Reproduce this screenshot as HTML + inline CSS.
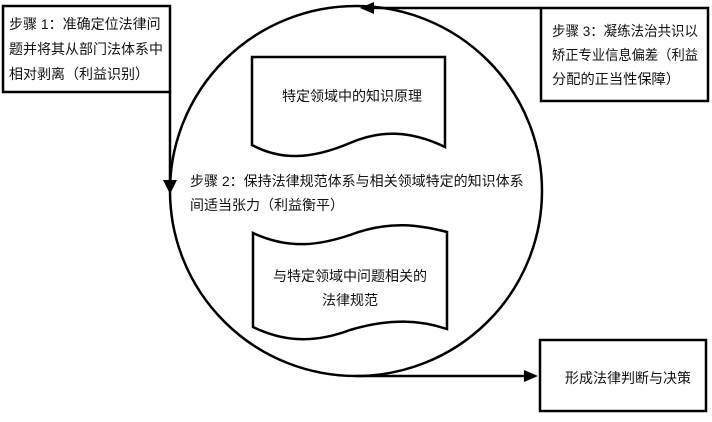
<!DOCTYPE html>
<html><head><meta charset="utf-8"><style>
body{margin:0;width:712px;height:422px;background:#fff;overflow:hidden}
svg{position:absolute;left:0;top:0}
text{font-family:"Liberation Sans","Noto Sans CJK SC",sans-serif;font-size:14px;fill:#111}
</style></head><body>
<svg width="712" height="422" viewBox="0 0 712 422">
<g fill="none" stroke="#000" stroke-width="2.5">
<ellipse cx="356" cy="191" rx="186" ry="185"/>
<rect x="3" y="6" width="167" height="86" fill="#fff"/>
<rect x="541" y="8" width="167" height="93" fill="#fff"/>
<rect x="540" y="340" width="166" height="71" fill="#fff"/>
<path d="M252 57 H445 V147 C410 130 380 130 350 143 C310 160 280 160 252 145 Z" fill="#fff"/>
<path d="M253 233 C290 250 320 245 350 235 C390 220 420 225 447 232 V329 C420 320 390 318 350 330 C310 345 280 340 253 327 Z" fill="#fff"/>
<path d="M170 92 V188"/>
<path d="M541 8 H370"/>
<path d="M356 376 H525"/>
</g>
<polygon points="163,180 177,180 170,194" fill="#000"/>
<polygon points="360,8 374,2 374,14" fill="#000"/>
<polygon points="538,376 524,370 524,382" fill="#000"/>
<text x="9" y="29">步骤 1：准确定位法律问</text>
<text x="9" y="54">题并将其从部门法体系中</text>
<text x="9" y="79">相对剥离（利益识别）</text>
<text x="552" y="36" textLength="146" lengthAdjust="spacingAndGlyphs">步骤 3：凝练法治共识以</text>
<text x="552" y="60" textLength="146" lengthAdjust="spacingAndGlyphs">矫正专业信息偏差（利益</text>
<text x="552" y="84" textLength="128" lengthAdjust="spacingAndGlyphs">分配的正当性保障）</text>
<text x="282" y="101">特定领域中的知识原理</text>
<text x="190" y="186">步骤 2：保持法律规范体系与相关领域特定的知识体系</text>
<text x="190" y="210">间适当张力（利益衡平）</text>
<text x="273" y="281">与特定领域中问题相关的</text>
<text x="322" y="305">法律规范</text>
<text x="565" y="383">形成法律判断与决策</text>
</svg>
</body></html>
